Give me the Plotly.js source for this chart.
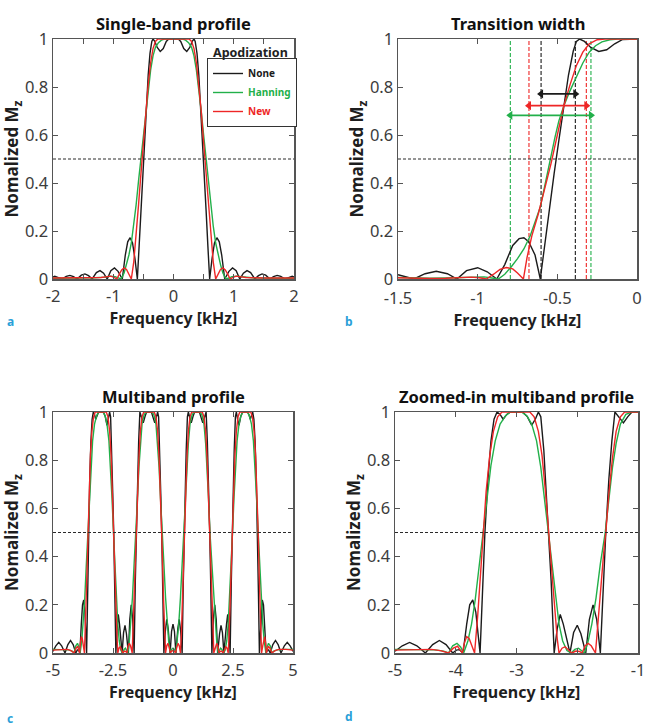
<!DOCTYPE html>
<html><head><meta charset="utf-8">
<script src="https://cdn.plot.ly/plotly-3.0.1.min.js"></script>
<style>html,body{margin:0;padding:0;background:#fff}#chart{width:658px;height:726px}</style>
</head><body><div id="chart"></div>
<script>
// ---------- Panel a: single-band profile ----------
const aNoneX = [-2.0,-1.97,-1.91,-1.85,-1.78,-1.72,-1.66,-1.6,-1.53,-1.47,-1.41,-1.35,-1.28,-1.22,-1.16,-1.1,-1.04,-0.98,-0.92,-0.85,-0.8,-0.76,-0.72,-0.68,-0.64,-0.6,-0.57,-0.54,-0.51,-0.48,-0.45,-0.42,-0.39,-0.36,-0.34,-0.31,-0.27,-0.22,-0.17,-0.12,-0.08,0,
  0.08,0.12,0.17,0.22,0.27,0.31,0.34,0.36,0.39,0.42,0.45,0.48,0.51,0.54,0.57,0.6,0.64,0.68,0.72,0.76,0.8,0.85,0.92,0.98,1.04,1.1,1.16,1.22,1.28,1.35,1.41,1.47,1.53,1.6,1.66,1.72,1.78,1.85,1.91,1.97,2.0];
const aNoneY = [0.008,0.011,0.006,0,0.011,0.015,0.01,0,0.016,0.021,0.014,0,0.027,0.035,0.024,0,0.035,0.046,0.032,0,0.1,0.155,0.172,0.15,0.085,0,0.14,0.29,0.44,0.58,0.72,0.85,0.94,0.99,1.0,0.99,0.965,0.948,0.96,0.99,1.0,1.0,
  1.0,0.99,0.96,0.948,0.965,0.99,1.0,0.99,0.94,0.85,0.72,0.58,0.44,0.29,0.14,0,0.085,0.15,0.172,0.155,0.1,0,0.032,0.046,0.035,0,0.024,0.035,0.027,0,0.014,0.021,0.016,0,0.01,0.015,0.011,0,0.006,0.011,0.008];
const aHanX = [-2.0,-1.6,-1.3,-1.15,-1.05,-0.97,-0.92,-0.87,-0.82,-0.78,-0.74,-0.7,-0.66,-0.62,-0.58,-0.54,-0.5,-0.46,-0.42,-0.38,-0.34,-0.3,-0.25,-0.2,-0.15,0,
  0.15,0.2,0.25,0.3,0.34,0.38,0.42,0.46,0.5,0.54,0.58,0.62,0.66,0.7,0.74,0.78,0.82,0.87,0.92,0.97,1.05,1.15,1.3,1.6,2.0];
const aHanY = [0.003,0.003,0.005,0.008,0.012,0.01,0.004,0,0.025,0.06,0.1,0.15,0.22,0.31,0.41,0.5,0.6,0.7,0.79,0.87,0.93,0.965,0.985,0.995,1.0,1.0,
  1.0,0.995,0.985,0.965,0.93,0.87,0.79,0.7,0.6,0.5,0.41,0.31,0.22,0.15,0.1,0.06,0.025,0,0.004,0.01,0.012,0.008,0.005,0.003,0.003];
const aNewX = [-2.0,-1.5,-1.2,-1.1,-1.04,-0.98,-0.94,-0.9,-0.86,-0.82,-0.78,-0.74,-0.7,-0.66,-0.62,-0.58,-0.54,-0.5,-0.46,-0.42,-0.38,-0.34,-0.3,-0.26,0,
  0.26,0.3,0.34,0.38,0.42,0.46,0.5,0.54,0.58,0.62,0.66,0.7,0.74,0.78,0.82,0.86,0.9,0.94,0.98,1.04,1.1,1.2,1.5,2.0];
const aNewY = [0.004,0.004,0.006,0.01,0.012,0.006,0,0.02,0.038,0.046,0.04,0.02,0,0.07,0.18,0.31,0.44,0.57,0.7,0.81,0.9,0.96,0.99,1.0,1.0,
  1.0,0.99,0.96,0.9,0.81,0.7,0.57,0.44,0.31,0.18,0.07,0,0.02,0.04,0.046,0.038,0.02,0,0.006,0.012,0.01,0.006,0.004,0.004];

// ---------- Panel b: transition width ----------
const bNoneX = [-1.5,-1.45,-1.4,-1.33,-1.26,-1.19,-1.13,-1.07,-1.0,-0.94,-0.88,-0.83,-0.78,-0.74,-0.71,-0.68,-0.64,-0.607,-0.58,-0.55,-0.52,-0.49,-0.46,-0.43,-0.4,-0.38,-0.36,-0.33,-0.29,-0.24,-0.19,-0.14,-0.09,-0.05,0];
const bNoneY = [0.018,0.01,0,0.022,0.032,0.022,0,0.035,0.047,0.03,0,0.06,0.14,0.168,0.172,0.155,0.1,0,0.14,0.29,0.44,0.58,0.72,0.85,0.95,0.99,1.0,0.99,0.965,0.948,0.955,0.98,0.998,1.0,1.0];
const bHanX = [-1.5,-1.4,-1.3,-1.2,-1.1,-1.02,-0.96,-0.91,-0.87,-0.83,-0.79,-0.75,-0.71,-0.67,-0.64,-0.607,-0.575,-0.545,-0.515,-0.49,-0.46,-0.42,-0.38,-0.34,-0.3,-0.26,-0.22,-0.17,-0.12,0];
const bHanY = [0.006,0.004,0.003,0.004,0.006,0.01,0.009,0.004,0,0.02,0.05,0.085,0.125,0.18,0.235,0.3,0.4,0.5,0.59,0.66,0.72,0.785,0.845,0.9,0.945,0.972,0.988,0.997,1.0,1.0];
const bNewX = [-1.5,-1.4,-1.3,-1.2,-1.1,-1.04,-0.99,-0.945,-0.9,-0.86,-0.82,-0.78,-0.75,-0.713,-0.69,-0.66,-0.62,-0.58,-0.54,-0.5,-0.46,-0.42,-0.38,-0.34,-0.3,-0.25,-0.2,0];
const bNewY = [0.005,0.003,0.002,0.003,0.006,0.008,0.005,0,0.02,0.04,0.048,0.042,0.025,0,0.09,0.18,0.27,0.37,0.48,0.6,0.72,0.81,0.89,0.945,0.98,0.997,1.0,1.0];
// transition-width markers (start, end) and arrow heights
const widthNone = [-0.602, -0.387];
const widthNew = [-0.678, -0.318];
const widthHanning = [-0.795, -0.289];
const arrowLevels = {None: 0.771, New: 0.722, Hanning: 0.682};

// ---------- Panels c & d: multiband profile (same data, d is zoomed) ----------
const mbNoneX = [-5.0,-4.88,-4.76,-4.64,-4.5,-4.38,-4.27,-4.16,-4.05,-3.99,-3.94,-3.88,-3.82,-3.77,-3.72,-3.67,-3.6,-3.56,-3.52,-3.47,-3.42,-3.37,-3.32,-3.27,-3.22,-3.16,-3.1,-2.9,-2.82,-2.75,-2.69,-2.64,-2.6,-2.55,-2.51,-2.47,-2.43,-2.38,
  -2.33,-2.28,-2.23,-2.12,-2.06,-2.0,-1.94,-1.86,-1.8,-1.74,-1.68,-1.62,
  -1.57,-1.53,-1.48,-1.43,-1.38,-1.32,-1.24,-1.17,-1.1,-0.9,-0.83,-0.76,-0.69,-0.64,-0.6,-0.55,-0.51,-0.47,-0.43,-0.38,
  -0.32,-0.26,-0.2,-0.12,-0.06,0,0.06,0.12,0.2,0.26,0.32,0.38,
  0.43,0.47,0.51,0.55,0.6,0.64,0.69,0.76,0.83,0.9,1.1,1.17,1.24,1.32,1.38,1.43,1.48,1.53,1.57,1.62,
  1.68,1.74,1.8,1.86,1.94,2.0,2.06,2.12,2.23,2.28,2.33,2.38,
  2.43,2.47,2.51,2.55,2.6,2.64,2.69,2.75,2.82,2.9,3.1,3.16,3.22,3.27,3.32,3.37,3.42,3.47,3.52,3.56,3.6,3.67,3.72,3.77,3.82,3.88,3.94,3.99,4.05,4.16,4.27,4.38,4.5,4.64,4.76,4.88,5.0];
const mbNoneY = [0.007,0.03,0.044,0.03,0,0.035,0.052,0.035,0,0.012,0.014,0,0.12,0.2,0.22,0.17,0,0.25,0.5,0.72,0.88,0.97,1.0,0.99,0.97,0.99,1.0,1.0,0.98,0.945,0.97,1.0,0.98,0.84,0.66,0.5,0.3,0,
  0.1,0.16,0.12,0,0.085,0.115,0.08,0,0.14,0.2,0.14,0,
  0.3,0.5,0.72,0.88,1.0,0.98,0.955,0.98,1.0,1.0,0.98,0.955,0.98,1.0,0.98,0.84,0.66,0.5,0.3,0,
  0.09,0.14,0.1,0,0.09,0.12,0.09,0,0.1,0.14,0.09,0,
  0.3,0.5,0.66,0.84,0.98,1.0,0.98,0.955,0.98,1.0,1.0,0.98,0.955,0.98,1.0,0.88,0.72,0.5,0.3,0,
  0.14,0.2,0.14,0,0.08,0.115,0.085,0,0.12,0.16,0.1,0,
  0.3,0.5,0.66,0.84,0.98,1.0,0.97,0.945,0.98,1.0,1.0,0.99,0.97,0.99,1.0,0.97,0.88,0.72,0.5,0.25,0,0.17,0.22,0.2,0.12,0,0.014,0.012,0,0.035,0.052,0.035,0,0.03,0.044,0.03,0.007];
const mbHanX = [-5.0,-4.6,-4.35,-4.2,-4.12,-4.05,-3.98,-3.92,-3.87,-3.8,-3.74,-3.68,-3.62,-3.55,-3.48,-3.42,-3.35,-3.27,-3.18,-3.1,-2.92,-2.83,-2.75,-2.67,-2.6,-2.54,-2.48,-2.42,-2.36,-2.3,-2.24,-2.17,-2.1,
  -2.04,-1.98,-1.93,-1.88,-1.82,-1.76,-1.69,-1.62,-1.54,-1.48,-1.42,-1.36,-1.29,-1.2,-1.1,-0.9,-0.8,-0.71,-0.64,-0.58,-0.52,-0.46,-0.38,-0.31,-0.24,-0.18,-0.12,
  -0.06,0,0.06,
  0.12,0.18,0.24,0.31,0.38,0.46,0.52,0.58,0.64,0.71,0.8,0.9,1.1,1.2,1.29,1.36,1.42,1.48,1.54,1.62,1.69,1.76,1.82,1.88,1.93,1.98,2.04,
  2.1,2.17,2.24,2.3,2.36,2.42,2.48,2.54,2.6,2.67,2.75,2.83,2.92,3.1,3.18,3.27,3.35,3.42,3.48,3.55,3.62,3.68,3.74,3.8,3.87,3.92,3.98,4.05,4.12,4.2,4.35,4.6,5.0];
const mbHanY = [0.015,0.015,0.013,0.008,0,0.03,0.04,0.025,0,0.05,0.12,0.22,0.35,0.5,0.65,0.78,0.88,0.95,0.985,1.0,1.0,0.985,0.95,0.88,0.77,0.64,0.5,0.36,0.23,0.12,0.05,0.01,0,
  0.015,0.02,0.01,0,0.05,0.12,0.23,0.37,0.5,0.64,0.77,0.87,0.95,0.99,1.0,1.0,0.99,0.95,0.87,0.77,0.64,0.5,0.37,0.23,0.12,0.05,0,
  0.015,0.02,0.015,
  0,0.05,0.12,0.23,0.37,0.5,0.64,0.77,0.87,0.95,0.99,1.0,1.0,0.99,0.95,0.87,0.77,0.64,0.5,0.37,0.23,0.12,0.05,0,0.01,0.02,0.015,
  0,0.01,0.05,0.12,0.23,0.36,0.5,0.64,0.77,0.88,0.95,0.985,1.0,1.0,0.985,0.95,0.88,0.78,0.65,0.5,0.35,0.22,0.12,0.05,0,0.025,0.04,0.03,0,0.008,0.013,0.015,0.015];
const mbNewX = [-5.0,-4.7,-4.4,-4.25,-4.12,-4.04,-3.97,-3.92,-3.89,-3.86,-3.82,-3.78,-3.74,-3.69,-3.64,-3.59,-3.55,-3.5,-3.44,-3.38,-3.31,-3.24,-2.78,-2.71,-2.64,-2.58,-2.52,-2.47,-2.42,-2.37,-2.33,-2.3,
  -2.25,-2.2,-2.14,-2.09,-2.02,-1.96,-1.92,-1.87,-1.82,-1.77,-1.7,-1.65,-1.6,-1.56,-1.53,-1.48,-1.42,-1.36,-1.29,-1.22,-0.78,-0.71,-0.64,-0.58,-0.52,-0.47,-0.44,-0.4,-0.35,-0.31,
  -0.26,-0.21,-0.16,-0.11,-0.05,0,0.05,0.11,0.16,0.21,0.26,
  0.31,0.35,0.4,0.44,0.47,0.52,0.58,0.64,0.71,0.78,1.22,1.29,1.36,1.42,1.48,1.53,1.56,1.6,1.65,1.7,1.77,1.82,1.87,1.92,1.96,2.02,2.09,2.14,2.2,2.25,
  2.3,2.33,2.37,2.42,2.47,2.52,2.58,2.64,2.71,2.78,3.24,3.31,3.38,3.44,3.5,3.55,3.59,3.64,3.69,3.74,3.78,3.82,3.86,3.89,3.92,3.97,4.04,4.12,4.25,4.4,4.7,5.0];
const mbNewY = [0.012,0.015,0.015,0.01,0,0.02,0.028,0.01,0,0.04,0.068,0.06,0.03,0,0.15,0.33,0.5,0.67,0.82,0.92,0.98,1.0,1.0,0.98,0.92,0.82,0.66,0.5,0.34,0.18,0.06,0,
  0.02,0.026,0.012,0,0.008,0.006,0,0.03,0.04,0.03,0,0.16,0.32,0.43,0.5,0.66,0.81,0.92,0.98,1.0,1.0,0.98,0.92,0.81,0.66,0.5,0.4,0.24,0.08,0,
  0.03,0.04,0.025,0,0.008,0.01,0.008,0,0.025,0.04,0.03,
  0,0.08,0.24,0.4,0.5,0.66,0.81,0.92,0.98,1.0,1.0,0.98,0.92,0.81,0.66,0.5,0.43,0.32,0.16,0,0.03,0.04,0.03,0,0.006,0.008,0,0.012,0.026,0.02,
  0,0.06,0.18,0.34,0.5,0.66,0.82,0.92,0.98,1.0,1.0,0.98,0.92,0.82,0.67,0.5,0.33,0.15,0,0.03,0.06,0.068,0.04,0,0.01,0.028,0.02,0,0.01,0.015,0.015,0.012];

// ---------- labels ----------
const seriesNames = ['None', 'Hanning', 'New'];
const panelTitles = ['Single-band profile', 'Transition width', 'Multiband profile', 'Zoomed-in multiband profile'];
const panelLetters = ['a', 'b', 'c', 'd'];
const yTicks = [0, 0.2, 0.4, 0.6, 0.8, 1];
const yTickText = ['0', '0.2', '0.4', '0.6', '0.8', '1'];
const xTicksA = [-2, -1, 0, 1, 2], xTickTextA = ['-2', '-1', '0', '1', '2'];
const xTicksB = [-1.5, -1, -0.5, 0], xTickTextB = ['-1.5', '-1', '-0.5', '0'];
const xTicksC = [-5, -2.5, 0, 2.5, 5], xTickTextC = ['-5', '-2.5', '0', '2.5', '5'];
const xTicksD = [-5, -4, -3, -2, -1], xTickTextD = ['-5', '-4', '-3', '-2', '-1'];
const halfLevel = 0.5;

// ---------- styling ----------
const W = 658, H = 726;
const COL = {None: '#1b1b1b', Hanning: '#22b04a', New: '#ee2626'};
const FONT = 'Noto Sans, Liberation Sans, Arial, sans-serif';
const FRAME = '#555555';

function tr(x, y, key, n, legend) {
  return {type: 'scatter', mode: 'lines', x: x, y: y,
    xaxis: 'x' + (n === 1 ? '' : n), yaxis: 'y' + (n === 1 ? '' : n),
    line: {color: COL[key], width: 1.4},
    name: '<b><span style="color:' + COL[key] + '">' + key + '</span></b>',
    legendgroup: key, showlegend: !!legend, hoverinfo: 'skip'};
}

const data = [
  tr(aNoneX, aNoneY, 'None', 1, true), tr(aHanX, aHanY, 'Hanning', 1, true), tr(aNewX, aNewY, 'New', 1, true),
  tr(bNoneX, bNoneY, 'None', 2), tr(bHanX, bHanY, 'Hanning', 2), tr(bNewX, bNewY, 'New', 2),
  tr(mbNoneX, mbNoneY, 'None', 3), tr(mbHanX, mbHanY, 'Hanning', 3), tr(mbNewX, mbNewY, 'New', 3),
  tr(mbNoneX, mbNoneY, 'None', 4), tr(mbHanX, mbHanY, 'Hanning', 4), tr(mbNewX, mbNewY, 'New', 4)
];
// transition-width double arrows (panel b), drawn as line traces with triangle heads
const widths = {None: widthNone, New: widthNew, Hanning: widthHanning};
for (const k of ['None', 'New', 'Hanning']) {
  data.push({type: 'scatter', mode: 'lines+markers', x: widths[k], y: [arrowLevels[k], arrowLevels[k]],
    xaxis: 'x2', yaxis: 'y2', line: {color: COL[k], width: 1.8},
    marker: {symbol: ['triangle-left', 'triangle-right'], size: 8, color: COL[k]},
    showlegend: false, hoverinfo: 'skip', cliponaxis: false});
}

function xax(px0, px1, range, tv, tt, anchor, minor, lblOff) {
  const a = {domain: [px0 / W, px1 / W], range: range, anchor: anchor,
    tickmode: 'array', tickvals: tv, ticktext: tt,
    ticks: 'inside', ticklen: 5, tickwidth: 1, tickcolor: FRAME,
    showline: true, linecolor: FRAME, linewidth: 1.5, mirror: 'ticks',
    showgrid: false, zeroline: false, fixedrange: true, ticklabelstandoff: lblOff || 2,
    tickfont: {family: FONT, size: 16.5, color: '#3c3c3c'},
    title: {text: '<b>Frequency [kHz]</b>', font: {family: FONT, size: 16, color: '#1e1e1e'}, standoff: 0}};
  if (minor) a.minor = {dtick: minor, ticks: 'inside', ticklen: 5, tickcolor: FRAME, showgrid: false};
  return a;
}
function yax(py0, py1, anchor) {
  return {domain: [1 - py1 / H, 1 - py0 / H], range: [0, 1], anchor: anchor,
    tickmode: 'array', tickvals: yTicks, ticktext: yTickText,
    ticks: 'inside', ticklen: 5, tickwidth: 1, tickcolor: FRAME,
    showline: true, linecolor: FRAME, linewidth: 1.5, mirror: 'ticks',
    showgrid: false, zeroline: false, fixedrange: true,
    tickfont: {family: FONT, size: 16.5, color: '#3c3c3c'},
    title: {text: '<b>Nomalized M<sub>z</sub></b>', font: {family: FONT, size: 17, color: '#1e1e1e'}, standoff: 0}};
}

const shapes = [];
const dashCol = '#2a2a2a';
for (let n = 1; n <= 4; n++) {
  const s = n === 1 ? '' : n;
  shapes.push({type: 'line', xref: 'x' + s + ' domain', x0: 0, x1: 1, yref: 'y' + s, y0: halfLevel, y1: halfLevel,
    line: {color: dashCol, width: 1, dash: '3px,2px'}, layer: 'above'});
}
for (const k of ['Hanning', 'New', 'None']) {
  for (const v of widths[k]) {
    shapes.push({type: 'line', xref: 'x2', x0: v, x1: v, yref: 'y2 domain', y0: 0, y1: 1,
      line: {color: COL[k], width: 1.1, dash: '4px,2px'}, layer: 'below'});
  }
}

const annotations = [];
const titleRefs = ['', '2', '3', '4'];
panelTitles.forEach((t, i) => {
  annotations.push({text: '<b>' + t + '</b>', xref: 'x' + titleRefs[i] + ' domain', yref: 'y' + titleRefs[i] + ' domain',
    x: 0.5, y: 1, xanchor: 'center', yanchor: 'bottom', yshift: 2, showarrow: false,
    font: {family: FONT, size: 16.5, color: '#111'}});
});
// legend title
annotations.push({text: '<b>Apodization</b>', xref: 'paper', yref: 'paper', x: 250 / W, y: 1 - 52 / H,
  xanchor: 'center', yanchor: 'middle', showarrow: false, font: {family: FONT, size: 12.5, color: '#222'}});
// panel letters
const letterPos = [[6, 322], [344, 322], [6, 718], [344, 716]];
panelLetters.forEach((l, i) => {
  annotations.push({text: '<b>' + l + '</b>', xref: 'paper', yref: 'paper', x: letterPos[i][0] / W, y: 1 - letterPos[i][1] / H,
    xanchor: 'left', yanchor: 'middle', showarrow: false, borderpad: 0, font: {family: FONT, size: 12, color: '#2a9fd8'}});
});

const layout = {
  width: W, height: H, margin: {l: 0, r: 0, t: 0, b: 0},
  paper_bgcolor: '#fff', plot_bgcolor: '#fff',
  showlegend: true,
  legend: {x: 207 / W, y: 1 - 58 / H, xanchor: 'left', yanchor: 'top',
    bgcolor: '#fff', bordercolor: '#333', borderwidth: 1,
    font: {family: FONT, size: 10, color: '#222'}, tracegroupgap: 0, itemwidth: 30},
  xaxis: xax(53, 294, [-2, 2], xTicksA, xTickTextA, 'y', 0.5),
  yaxis: yax(39, 279, 'x'),
  xaxis2: xax(398, 637, [-1.5, 0], xTicksB, xTickTextB, 'y2', null, 4),
  yaxis2: yax(39, 279, 'x2'),
  xaxis3: xax(53, 293, [-5, 5], xTicksC, xTickTextC, 'y3'),
  yaxis3: yax(412, 653, 'x3'),
  xaxis4: xax(395, 638, [-5, -1], xTicksD, xTickTextD, 'y4'),
  yaxis4: yax(412, 653, 'x4'),
  shapes: shapes, annotations: annotations
};

Plotly.newPlot('chart', data, layout, {displayModeBar: false, staticPlot: true});
</script></body></html>
